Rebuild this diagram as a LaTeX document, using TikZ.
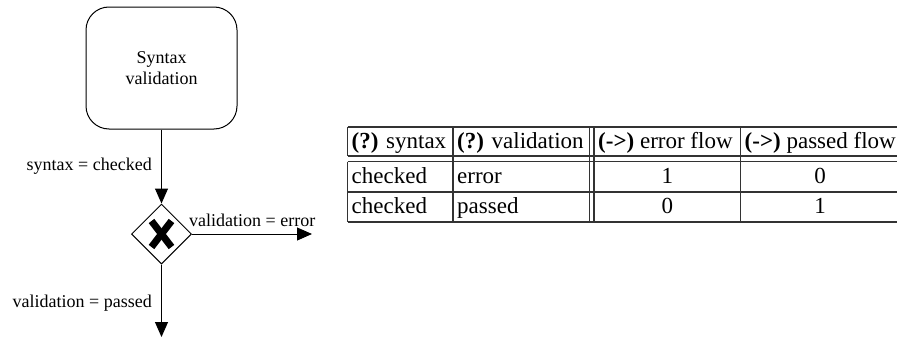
\documentclass[tikz,border=0pt]{standalone}
\usepackage{fontspec}
\setmainfont{Liberation Serif}
\usetikzlibrary{shapes.geometric,arrows.meta}
\begin{document}
\begin{tikzpicture}[x=1pt,y=-1pt,
  lbl/.style={font=\fontsize{18}{21}\selectfont, inner sep=0pt},
  tcell/.style={font=\fontsize{23}{27}\selectfont, inner sep=0pt, anchor=base west},
  tnum/.style={font=\fontsize{23}{27}\selectfont, inner sep=0pt, anchor=base},
  flow/.style={draw=black, line width=1pt, -{Triangle[length=15pt,width=13pt]}},
  tline/.style={draw=black!80, line width=1.1pt},
  xmark/.style={line width=7pt, line cap=butt}]
\useasboundingbox (0,0) rectangle (897,340);
% task
\node[draw, line width=1pt, rounded corners=23pt, minimum width=151pt, minimum height=122pt,
      inner sep=0pt, align=center, font=\fontsize{18}{21}\selectfont] (task) at (161.5,68) {Syntax\\validation};
% gateway
\node[draw, diamond, line width=1pt, minimum width=60pt, minimum height=60pt, inner sep=0pt] (gw) at (161.5,234) {};
\draw[xmark] ([shift={(-10,-13)}]gw.center) -- ([shift={(10,13)}]gw.center);
\draw[xmark] ([shift={(10,-13)}]gw.center) -- ([shift={(-10,13)}]gw.center);
% flows
\coordinate (errend) at (312,234);
\coordinate (passend) at (161.5,337);
\draw[flow] (task.south) -- (gw.north);
\draw[flow] (gw.east) -- (errend);
\draw[flow] (gw.south) -- (passend);
\node[lbl, anchor=east] (l1) at (152,166) {syntax = checked};
\node[lbl, anchor=west] (l2) at (189,220) {validation = error};
\node[lbl, anchor=east] (l3) at (152,303) {validation = passed};
% table
\draw[tline] (347.5,127) -- (900,127);
\draw[tline] (347.5,156) -- (900,156);
\draw[tline] (347.5,161.5) -- (900,161.5);
\draw[tline] (347.5,192) -- (900,192);
\draw[tline] (347.5,222) -- (900,222);
\draw[tline] (347.5,127) -- (347.5,156);
\draw[tline] (347.5,161.5) -- (347.5,222);
\draw[tline] (453,127) -- (453,222);
\draw[tline] (589.5,127) -- (589.5,222);
\draw[tline] (594,127) -- (594,222);
\draw[tline] (740.5,127) -- (740.5,222);
\draw[tline] (900,127) -- (900,222);
\node[tcell] (h1) at (351.5,148) {\textbf{(?)} syntax};
\node[tcell] (h2) at (457,148) {\textbf{(?)} validation};
\node[tcell] (h3) at (598,148) {\textbf{(->)} error flow};
\node[tcell] (h4) at (744.5,148) {\textbf{(->)} passed flow};
\node[tcell] (a1) at (351.5,183.5) {checked};
\node[tcell] (a2) at (457,183.5) {error};
\node[tnum] (a3) at (667.25,183.5) {1};
\node[tnum] (a4) at (820,183.5) {0};
\node[tcell] (b1) at (351.5,213.5) {checked};
\node[tcell] (b2) at (457,213.5) {passed};
\node[tnum] (b3) at (667.25,213.5) {0};
\node[tnum] (b4) at (820,213.5) {1};
\end{tikzpicture}
\end{document}
